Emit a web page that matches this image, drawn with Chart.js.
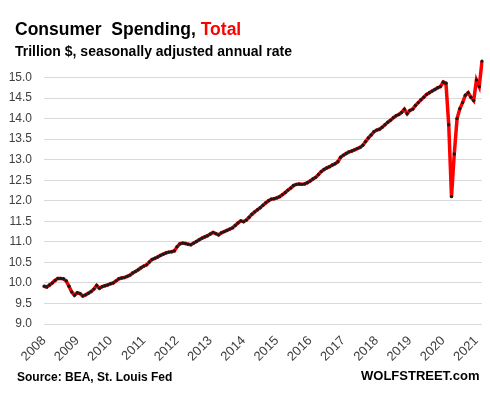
<!DOCTYPE html>
<html>
<head>
<meta charset="utf-8">
<script src="https://cdn.jsdelivr.net/npm/chart.js@4"></script>
<style>
  html, body { margin: 0; padding: 0; background: #fff; }
  #wrap { position: relative; width: 490px; height: 393px; overflow: hidden; font-family: "Liberation Sans", Arial, sans-serif; }
  #c { position: absolute; left: 0; top: 0; }
  .txt { position: absolute; white-space: pre; line-height: 1; font-weight: bold; }
  #title { left: 15px; top: 21px; font-size: 17.5px; color: #000; }
  #title .red { color: #ff0000; }
  #sub { left: 15px; top: 44px; font-size: 14px; color: #000; }
  #src { left: 17px; top: 371px; font-size: 12px; color: #000; }
  #wolf { left: 361px; top: 369px; font-size: 13px; color: #000; }
</style>
</head>
<body>
<div id="wrap">
  <canvas id="c" width="490" height="393"></canvas>
  <div class="txt" id="title">Consumer  Spending, <span class="red">Total</span></div>
  <div class="txt" id="sub">Trillion $, seasonally adjusted annual rate</div>
  <div class="txt" id="src">Source: BEA, St. Louis Fed</div>
  <div class="txt" id="wolf">WOLFSTREET.com</div>
</div>
<script>
// Years shown on the x axis (tick labels at each January)
const years = [2008, 2009, 2010, 2011, 2012, 2013, 2014, 2015, 2016, 2017, 2018, 2019, 2020, 2021];

// Consumer spending, trillion $, SAAR, monthly values per year
const v2008 = [9.92, 9.90, 9.95, 10.00, 10.06, 10.11, 10.11, 10.10, 10.05, 9.92, 9.78, 9.70];
const v2009 = [9.76, 9.74, 9.68, 9.71, 9.75, 9.79, 9.85, 9.94, 9.87, 9.91, 9.93, 9.95];
const v2010 = [9.98, 10.00, 10.05, 10.10, 10.12, 10.13, 10.16, 10.19, 10.24, 10.28, 10.32, 10.37];
const v2011 = [10.41, 10.44, 10.51, 10.57, 10.60, 10.63, 10.67, 10.70, 10.73, 10.75, 10.76, 10.78];
const v2012 = [10.88, 10.95, 10.97, 10.96, 10.94, 10.93, 10.97, 11.01, 11.05, 11.09, 11.12, 11.15];
const v2013 = [11.19, 11.23, 11.20, 11.17, 11.22, 11.25, 11.28, 11.31, 11.34, 11.40, 11.46, 11.51];
const v2014 = [11.49, 11.53, 11.60, 11.67, 11.73, 11.78, 11.83, 11.89, 11.95, 12.00, 12.04, 12.05];
const v2015 = [12.07, 12.10, 12.15, 12.20, 12.26, 12.31, 12.37, 12.40, 12.41, 12.40, 12.41, 12.44];
const v2016 = [12.48, 12.53, 12.57, 12.64, 12.71, 12.76, 12.80, 12.83, 12.87, 12.90, 12.95, 13.06];
const v2017 = [13.11, 13.15, 13.19, 13.21, 13.24, 13.27, 13.30, 13.35, 13.44, 13.53, 13.60, 13.68];
const v2018 = [13.72, 13.74, 13.79, 13.85, 13.91, 13.96, 14.02, 14.07, 14.10, 14.15, 14.23, 14.12];
const v2019 = [14.20, 14.23, 14.32, 14.39, 14.46, 14.52, 14.59, 14.63, 14.67, 14.71, 14.75, 14.78];
const v2020 = [14.89, 14.86, 13.85, 12.10, 13.14, 14.00, 14.24, 14.39, 14.57, 14.63, 14.52, 14.44];
const v2021 = [14.94, 14.78, 15.40];

const yearValues = [v2008, v2009, v2010, v2011, v2012, v2013, v2014, v2015, v2016, v2017, v2018, v2019, v2020, v2021];

// Build categories (year-month) and the series from the per-year arrays
const categories = [];
const values = [];
yearValues.forEach((arr, i) => {
  arr.forEach((v, m) => {
    categories.push(years[i] + '-' + String(m + 1).padStart(2, '0'));
    values.push(v);
  });
});

const yMin = 9.0, yMax = 15.5, yStep = 0.5, yLastLabel = 15.0;

new Chart(document.getElementById('c'), {
  type: 'line',
  data: {
    labels: categories,
    datasets: [{
      data: values,
      borderColor: '#ff0000',
      borderWidth: 3.5,
      tension: 0,
      pointRadius: 1.7,
      pointBackgroundColor: '#1a1a1a',
      pointBorderWidth: 0,
      pointHoverRadius: 0
    }]
  },
  options: {
    responsive: false,
    animation: false,
    events: [],
    layout: { padding: { top: 57, right: 8, bottom: 0, left: 0 } },
    plugins: { legend: { display: false }, tooltip: { enabled: false }, title: { display: false } },
    scales: {
      x: {
        type: 'category',
        offset: false,
        grid: { display: false, drawTicks: false },
        border: { display: false },
        ticks: {
          autoSkip: false,
          maxRotation: 45,
          minRotation: 45,
          padding: 9,
          color: '#404040',
          font: { family: '"Liberation Sans", Arial, sans-serif', size: 13 },
          callback: function (val, idx) {
            const lab = categories[idx];
            return lab.endsWith('-01') ? lab.slice(0, 4) : '';
          }
        },
        afterFit: function (s) { s.height = 69; s.paddingRight = 0; s.paddingLeft = 0; }
      },
      y: {
        min: yMin,
        max: yMax,
        grid: { color: '#d9d9d9', lineWidth: 1, drawTicks: false },
        border: { display: false },
        ticks: {
          stepSize: yStep,
          padding: 12,
          color: '#404040',
          font: { family: '"Liberation Sans", Arial, sans-serif', size: 12 },
          callback: function (v) { return Number(v).toFixed(1); }
        },
        afterBuildTicks: function (axis) {
          axis.ticks = axis.ticks.filter(t => t.value <= yLastLabel + 1e-9);
        },
        afterFit: function (s) { s.width = 44; }
      }
    }
  }
});
</script>
</body>
</html>
